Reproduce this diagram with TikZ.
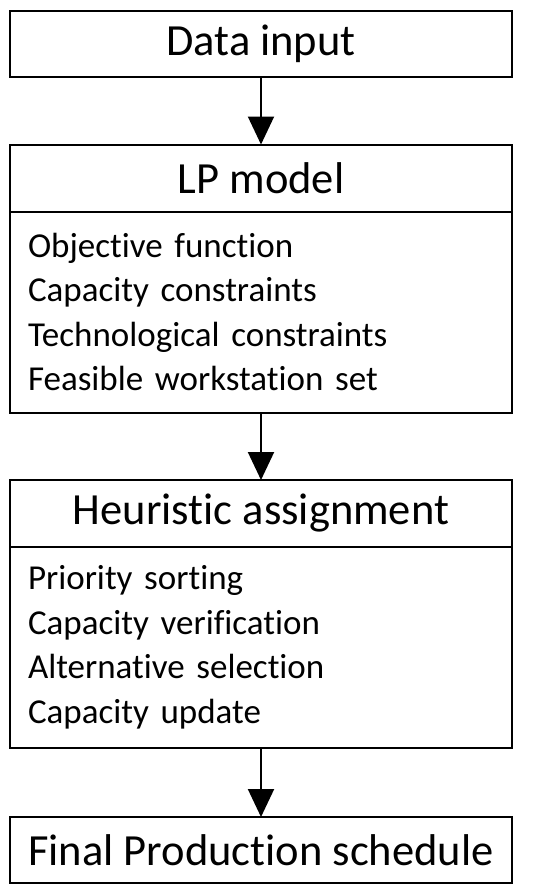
\documentclass[tikz,border=0pt]{standalone}
\usepackage{fontspec}
\setmainfont{Carlito}[Ligatures=NoCommon]
\usetikzlibrary{positioning,arrows.meta}
\tikzset{
  headbox/.style={draw, line width=2pt, outer sep=0pt, inner sep=0pt,
    minimum width=502pt, minimum height=66pt, font=\fontsize{44.5}{50}\selectfont},
  listbox/.style={draw, line width=2pt, outer sep=0pt, inner xsep=18pt,
    text width=466pt, minimum height=201pt, align=left,
    font=\fontsize{35}{44.5}\selectfont},
  flow/.style={line width=2pt, -{Triangle[length=28pt,width=26pt]}}
}
\begin{document}
\begin{tikzpicture}[x=1pt, y=1pt]
  \useasboundingbox (0,0) rectangle (550,-894);
  \node[headbox] (input) at (261,-43.5) {Data input};
  \node[headbox, minimum height=67pt, below=68pt of input] (lp) {LP model};
  \node[listbox, below=0pt of lp] (lplist) {Objective function\\Capacity constraints\\Technological constraints\\Feasible workstation set};
  \node[headbox, minimum height=67pt, below=67.5pt of lplist] (heur) {Heuristic assignment};
  \node[listbox, below=0pt of heur] (heurlist) {Priority sorting\\Capacity verification\\Alternative selection\\Capacity update};
  \node[headbox, below=69pt of heurlist] (final) {Final Production schedule};
  \draw[flow] (input) -- (lp);
  \draw[flow] (lplist) -- (heur);
  \draw[flow] (heurlist) -- (final);
\end{tikzpicture}
\end{document}
